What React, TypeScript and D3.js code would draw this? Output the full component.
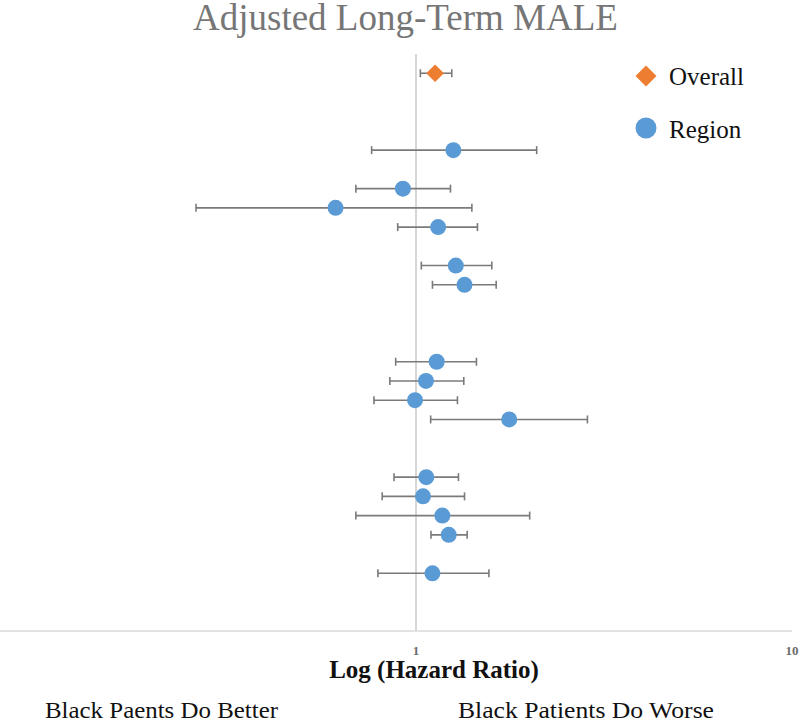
import { useRef, useEffect } from 'react';
import * as d3 from 'd3';

const W = 800;
const H = 722;
const FONT = '"Liberation Serif", "Times New Roman", serif';

// overall estimate
const overallRow = [29];
const overallHR = [1.124];
const overallLo = [1.027];
const overallHi = [1.245];

// region estimates (row position counted from the bottom)
const regionRows = [25, 23, 22, 21, 19, 18, 14, 13, 12, 11, 8, 7, 6, 5, 3];
const regionHR = [1.257, 0.923, 0.611, 1.145, 1.276, 1.346, 1.135, 1.063, 0.994, 1.77, 1.065, 1.044, 1.175, 1.222, 1.106];
const regionLo = [0.762, 0.692, 0.26, 0.894, 1.033, 1.106, 0.883, 0.852, 0.773, 1.094, 0.874, 0.813, 0.692, 1.096, 0.792];
const regionHi = [2.094, 1.235, 1.408, 1.457, 1.591, 1.634, 1.448, 1.34, 1.289, 2.857, 1.297, 1.346, 2.006, 1.368, 1.563];

const xTicks = [1, 10];
const legendItems = ['Overall', 'Region'];

const BLUE = '#5b9bd5';
const ORANGE = '#ed7d31';
const BAR = '#7a7a7a';

export default function App() {
  const svgRef = useRef<SVGSVGElement>(null);

  useEffect(() => {
    const el = svgRef.current;
    if (!el) return;
    const svg = d3.select(el);
    svg.selectAll('*').remove();

    const x = d3.scaleLog().domain([0.1, 10]).range([40, 792]);
    const y = d3.scaleLinear().domain([0, 30]).range([631, 54]);

    // title
    svg.append('text')
      .attr('x', 193).attr('y', 30)
      .attr('fill', '#767676')
      .style('font-family', FONT)
      .style('font-size', '37px')
      .text('Adjusted Long-Term MALE');

    // reference line at HR = 1
    svg.append('line')
      .attr('x1', x(1)).attr('x2', x(1))
      .attr('y1', y(30)).attr('y2', y(0))
      .attr('stroke', '#c8c8c8').attr('stroke-width', 1.5);

    // x axis line
    svg.append('line')
      .attr('x1', 0).attr('x2', 792)
      .attr('y1', y(0)).attr('y2', y(0))
      .attr('stroke', '#d9d9d9').attr('stroke-width', 1.5);

    svg.selectAll('text.tick')
      .data(xTicks)
      .enter().append('text')
      .attr('class', 'tick')
      .attr('x', d => x(d)).attr('y', 655)
      .attr('text-anchor', 'middle')
      .attr('fill', '#6b6b6b')
      .style('font-family', FONT)
      .style('font-size', '13px')
      .style('font-weight', '700')
      .text(d => String(d));

    svg.append('text')
      .attr('x', 434).attr('y', 678)
      .attr('text-anchor', 'middle')
      .attr('fill', '#111')
      .style('font-family', FONT)
      .style('font-size', '25px')
      .style('font-weight', '700')
      .text('Log (Hazard Ratio)');

    svg.append('text')
      .attr('x', 45).attr('y', 718)
      .attr('fill', '#111')
      .attr('textLength', 233)
      .attr('lengthAdjust', 'spacingAndGlyphs')
      .style('font-family', FONT)
      .style('font-size', '23px')
      .text('Black Paents Do Better');

    svg.append('text')
      .attr('x', 458).attr('y', 718)
      .attr('fill', '#111')
      .attr('textLength', 256)
      .attr('lengthAdjust', 'spacingAndGlyphs')
      .style('font-family', FONT)
      .style('font-size', '23px')
      .text('Black Patients Do Worse');

    // error bars
    const drawBars = (rows: number[], lo: number[], hi: number[]) => {
      const g = svg.append('g');
      rows.forEach((r, i) => {
        const cy = y(r);
        g.append('line')
          .attr('x1', x(lo[i])).attr('x2', x(hi[i]))
          .attr('y1', cy).attr('y2', cy)
          .attr('stroke', BAR).attr('stroke-width', 1.6);
        [lo[i], hi[i]].forEach(v => {
          g.append('line')
            .attr('x1', x(v)).attr('x2', x(v))
            .attr('y1', cy - 4).attr('y2', cy + 4)
            .attr('stroke', BAR).attr('stroke-width', 1.6);
        });
      });
    };
    drawBars(overallRow, overallLo, overallHi);
    drawBars(regionRows, regionLo, regionHi);

    // markers
    svg.append('g').selectAll('circle')
      .data(regionRows)
      .enter().append('circle')
      .attr('cx', (_, i) => x(regionHR[i]))
      .attr('cy', d => y(d))
      .attr('r', 8)
      .attr('fill', BLUE);

    const diamond = d3.symbol().type(d3.symbolDiamond2).size(200);
    svg.append('g').selectAll('path')
      .data(overallRow)
      .enter().append('path')
      .attr('d', diamond)
      .attr('transform', (d, i) => `translate(${x(overallHR[i])},${y(d)})`)
      .attr('fill', ORANGE);

    // legend
    const bigDiamond = d3.symbol().type(d3.symbolDiamond2).size(280);
    const lg = svg.append('g');
    legendItems.forEach((name, i) => {
      const cy = 76 + i * 52;
      if (i === 0) {
        lg.append('path')
          .attr('d', bigDiamond)
          .attr('transform', `translate(646,${cy})`)
          .attr('fill', ORANGE);
      } else {
        lg.append('circle')
          .attr('cx', 646).attr('cy', cy).attr('r', 10.5)
          .attr('fill', BLUE);
      }
      lg.append('text')
        .attr('x', 669).attr('y', cy + 8.5 + i * 1.5)
        .attr('fill', '#111')
        .style('font-family', FONT)
        .style('font-size', '25px')
        .text(name);
    });
  }, []);

  return (
    <svg
      ref={svgRef}
      width={W}
      height={H}
      style={{ position: 'absolute', left: 0, top: 0, display: 'block', background: '#fff' }}
    />
  );
}
